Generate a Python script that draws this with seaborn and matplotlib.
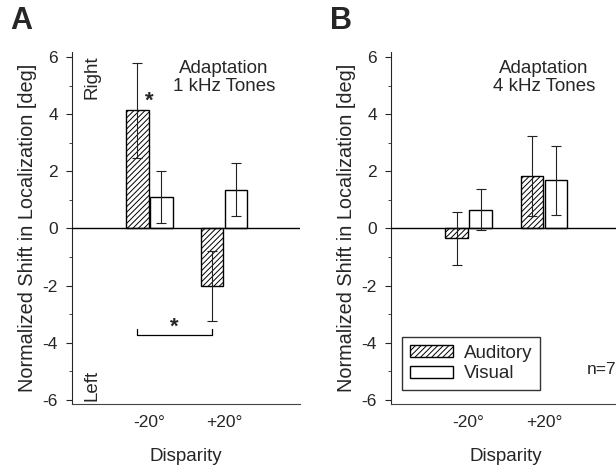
import numpy as np
import pandas as pd
import matplotlib
matplotlib.use("Agg")
import matplotlib.pyplot as plt
import seaborn as sns
from matplotlib.patches import Patch

sns.set_theme(style="ticks")
plt.rcParams['font.family'] = ['Liberation Sans', 'DejaVu Sans']
plt.rcParams['hatch.linewidth'] = 0.7

disparities = ["-20°", "+20°"]
modalities = ["Auditory", "Visual"]

# Panel A: Adaptation 1 kHz tones
a_auditory = [4.13, -2.02]
a_auditory_err = [1.65, 1.22]
a_visual = [1.10, 1.35]
a_visual_err = [0.90, 0.93]

# Panel B: Adaptation 4 kHz tones
b_auditory = [-0.35, 1.85]
b_auditory_err = [0.92, 1.40]
b_visual = [0.65, 1.68]
b_visual_err = [0.72, 1.20]

yticks = [-6, -4, -2, 0, 2, 4, 6]


def make_df(aud, vis):
    return pd.DataFrame({
        "Disparity": disparities * 2,
        "Modality": ["Auditory"] * 2 + ["Visual"] * 2,
        "Shift": list(aud) + list(vis),
    })


fig = plt.figure(figsize=(6.16, 4.67), dpi=100)
axA = fig.add_axes([0.1169, 0.135, 0.370, 0.754])
axB = fig.add_axes([0.6347, 0.135, 0.372, 0.754])


def draw_panel(ax, aud, aud_err, vis, vis_err, title):
    df = make_df(aud, vis)
    sns.barplot(data=df, x="Disparity", y="Shift", hue="Modality",
                order=disparities, hue_order=modalities,
                palette=["white", "white"], edgecolor="black", linewidth=1.0,
                width=0.64, gap=0.06, errorbar=None, legend=False, ax=ax)
    patches = [p for p in ax.patches]
    errs = list(aud_err) + list(vis_err)
    vals = list(aud) + list(vis)
    for i, p in enumerate(patches[:4]):
        if i < 2:
            p.set_hatch("//////")
        x = p.get_x() + p.get_width() / 2
        ax.errorbar(x, vals[i], yerr=errs[i], color="#222222", lw=0.8,
                    capsize=3.6, capthick=0.8, zorder=5)
    ax.axhline(0, color="black", lw=1.0, zorder=4)
    ax.set_ylim(-6.14, 6.18)
    ax.set_xlim(-1.03, 2.01)
    ax.set_yticks(yticks)
    ax.set_yticklabels([str(t) for t in yticks])
    ax.set_yticks([-5, -3, -1, 1, 3, 5], minor=True)
    ax.tick_params(axis="y", which="major", length=4, width=0.8, labelsize=12.5, direction="out", pad=6)
    ax.tick_params(axis="y", which="minor", length=2.5, width=0.6, direction="out")
    ax.tick_params(axis="x", length=0, labelsize=12.5, pad=8)
    ax.set_xlabel("Disparity", fontsize=13.5, labelpad=13)
    ax.set_ylabel("Normalized Shift in Localization [deg]", fontsize=14.3, labelpad=4)
    for s in ["top", "right"]:
        ax.spines[s].set_visible(False)
    ax.spines["left"].set_linewidth(0.8)
    ax.spines["bottom"].set_linewidth(0.8)
    ax.spines["bottom"].set_color("#444444")
    ax.text(1.0, 5.27, title, ha="center", va="center", fontsize=13.5, linespacing=1.1)


draw_panel(axA, a_auditory, a_auditory_err, a_visual, a_visual_err, "Adaptation\n1 kHz Tones")
draw_panel(axB, b_auditory, b_auditory_err, b_visual, b_visual_err, "Adaptation\n4 kHz Tones")

# Panel A annotations
axA.text(-0.77, 5.3, "Right", rotation=90, ha="center", va="center", fontsize=13.5)
axA.text(-0.77, -5.5, "Left", rotation=90, ha="center", va="center", fontsize=13.5)
axA.text(0.0, 4.45, "*", ha="center", va="center", fontsize=16, fontweight="bold")
axA.plot([-0.16, -0.16, 0.84, 0.84], [-3.5, -3.74, -3.74, -3.5], color="black", lw=0.9)
axA.text(0.33, -3.45, "*", ha="center", va="center", fontsize=16, fontweight="bold")

# Panel B legend and n
handles = [Patch(facecolor="white", edgecolor="black", hatch="//////", lw=1.0, label="Auditory"),
           Patch(facecolor="white", edgecolor="black", lw=1.0, label="Visual")]
axB.legend(handles=handles, loc="lower left", bbox_to_anchor=(0.05, 0.04), frameon=True,
           fancybox=False, edgecolor="black", fontsize=13.5, handlelength=2.3, handleheight=0.6,
           borderpad=0.4, labelspacing=0.2, handletextpad=0.6, borderaxespad=0)
axB.get_legend().get_frame().set_linewidth(1.0)
axB.text(1.57, -4.92, "n=7", ha="left", va="center", fontsize=12.5)

fig.text(0.0165, 0.955, "A", fontsize=22, fontweight="bold", ha="left", va="center")
fig.text(0.535, 0.955, "B", fontsize=22, fontweight="bold", ha="left", va="center")

fig.savefig("out.png", dpi=100)
